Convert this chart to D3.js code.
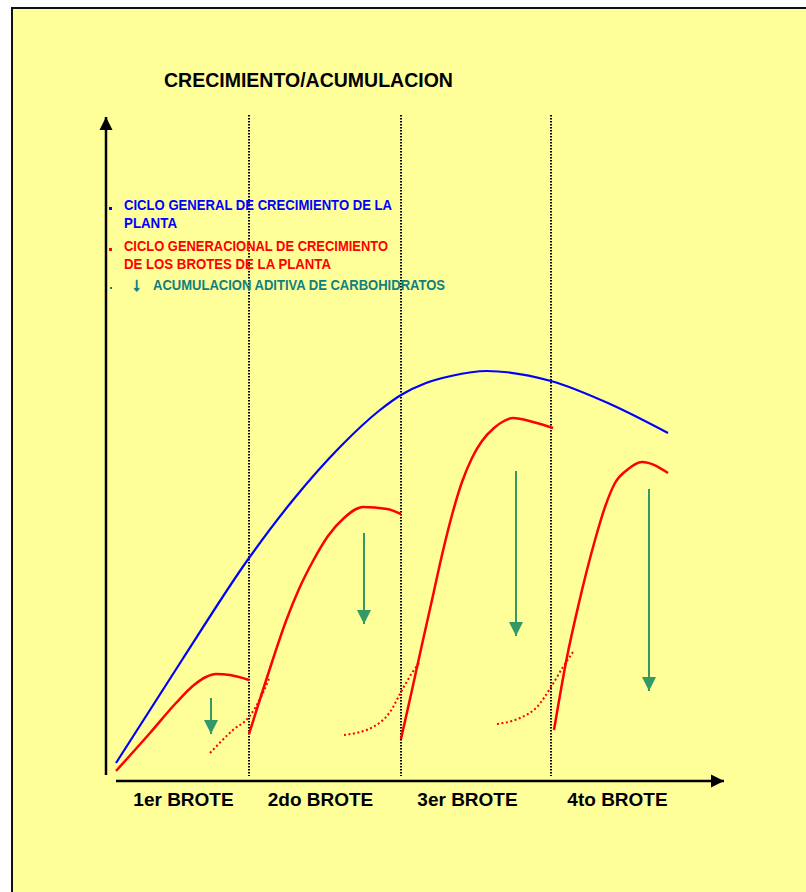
<!DOCTYPE html>
<html>
<head>
<meta charset="utf-8">
<script src="https://cdn.jsdelivr.net/npm/d3@7"></script>
<style>
  body { margin: 0; background: #fff; }
  text { font-family: "Liberation Sans", Arial, sans-serif; font-weight: bold; }
</style>
</head>
<body>
<script>
// arbitrary units (x: time, y: growth)
var blue = [[10,18],[76,121],[143,223],[187,281],[234,334],[274,371],[295,386],[320,398],[345,405],[381,410],[445,400],[504,377],[562,348]];

var red1 = [[10,10],[44,48],[70,78],[88,96],[100,104],[110,107],[124,106],[143,101]];
var red2 = [[143,47],[155,85],[167,122],[180,160],[193,192],[207,220],[222,245],[238,263],[257,274],[281,272],[295,267]];
var red3 = [[295,42],[306,91],[317,141],[326,181],[336,226],[346,266],[356,299],[366,323],[376,340],[388,353],[398,360],[407,363],[427,359],[447,353]];
var red4 = [[448,51],[461,124],[472,174],[489,241],[499,274],[509,298],[521,311],[536,319],[562,308]];

var dot1 = [[104,28],[127,51],[143,64],[156,86],[163,102]];
var dot2 = [[238,46],[267,54],[284,69],[295,89],[306,108],[314,119]];
var dot3 = [[391,57],[414,63],[431,74],[445,94],[457,114],[467,129]];

// carbohydrate arrows: x, from, to
var arrows = [[105,83,47],[258,248,157],[410,310,145],[543,292,90]];

var dividers = [143, 295, 445];

var brotes = ["1er BROTE", "2do BROTE", "3er BROTE", "4to BROTE"];
var broteTicks = [77, 214, 361, 511];

var legend = [
  {lines: ["CICLO GENERAL DE CRECIMIENTO DE LA", "PLANTA"], color: "#0000ff"},
  {lines: ["CICLO GENERACIONAL DE CRECIMIENTO", "DE LOS BROTES DE LA PLANTA"], color: "#ff0000"},
  {lines: ["\u2193 ACUMULACION ADITIVA DE CARBOHIDRATOS"], color: "#108080"}
];

var W = 806, H = 892;

var x = d3.scaleLinear().domain([0, 618]).range([106, 724]);
var y = d3.scaleLinear().domain([0, 664]).range([781, 117]);

var svg = d3.select("body").append("svg")
    .attr("width", W)
    .attr("height", H);

svg.append("rect")
    .attr("x", 12).attr("y", 8)
    .attr("width", 820).attr("height", 900)
    .attr("fill", "#ffff99")
    .attr("stroke", "#111")
    .attr("stroke-width", 2);

var defs = svg.append("defs");
defs.append("marker")
    .attr("id", "ah")
    .attr("viewBox", "0 0 10 10")
    .attr("refX", 10).attr("refY", 5)
    .attr("markerWidth", 5.2).attr("markerHeight", 5.4)
    .attr("markerUnits", "strokeWidth")
    .attr("orient", "auto")
  .append("path")
    .attr("d", "M0,0L10,5L0,10Z")
    .attr("fill", "#000");

defs.append("marker")
    .attr("id", "gh")
    .attr("viewBox", "0 0 10 10")
    .attr("refX", 10).attr("refY", 5)
    .attr("markerWidth", 7).attr("markerHeight", 7)
    .attr("markerUnits", "strokeWidth")
    .attr("orient", "auto")
  .append("path")
    .attr("d", "M0,0L10,5L0,10Z")
    .attr("fill", "#339966");

// title
svg.append("text")
    .attr("x", 164).attr("y", 87)
    .style("font-size", "19.5px")
    .attr("fill", "#000")
    .text("CRECIMIENTO/ACUMULACION");

// axes
svg.append("line")
    .attr("x1", x(0)).attr("x2", x(0))
    .attr("y1", y(6)).attr("y2", y(664))
    .attr("stroke", "#000").attr("stroke-width", 2.5)
    .attr("marker-end", "url(#ah)");

svg.append("line")
    .attr("x1", x(10)).attr("x2", x(618))
    .attr("y1", y(0)).attr("y2", y(0))
    .attr("stroke", "#000").attr("stroke-width", 2.5)
    .attr("marker-end", "url(#ah)");

var xAxis = svg.append("g")
    .attr("transform", "translate(0," + y(0) + ")")
    .call(d3.axisBottom(x).tickValues(broteTicks)
      .tickFormat(function(d, i) { return brotes[i]; })
      .tickSize(0).tickPadding(12));
xAxis.select(".domain").remove();
xAxis.selectAll("text")
    .style("font-size", "19px")
    .style("font-family", "'Liberation Sans', Arial, sans-serif")
    .style("font-weight", "bold")
    .attr("fill", "#000");

// dotted dividers
svg.selectAll("line.div").data(dividers).enter()
  .append("line")
    .attr("class", "div")
    .attr("x1", function(d) { return x(d); })
    .attr("x2", function(d) { return x(d); })
    .attr("y1", y(666)).attr("y2", y(5))
    .attr("stroke", "#000")
    .attr("stroke-width", 2)
    .attr("stroke-dasharray", "1.5,1.5");

// legend
var leg = svg.append("g");
var lineY = [210, 251, 290];
var widths = [[268, 53], [264, 207], [292]];
legend.forEach(function(l, i) {
  leg.append("rect")
      .attr("x", i == 2 ? 110 : 109).attr("y", lineY[i] - 3)
      .attr("width", i == 2 ? 2 : 3).attr("height", i == 2 ? 2 : 3)
      .attr("fill", l.color);
  l.lines.forEach(function(t, j) {
    var tx = 124;
    if (t.charAt(0) == "\u2193") {
      leg.append("text")
          .attr("x", 132).attr("y", lineY[i] + 1)
          .attr("fill", l.color)
          .attr("stroke", l.color)
          .attr("stroke-width", 0.8)
          .style("font-size", "19px")
          .text(t.charAt(0));
      t = t.slice(2);
      tx = 153;
    }
    leg.append("text")
        .attr("x", tx)
        .attr("y", lineY[i] + j * 18)
        .attr("fill", l.color)
        .style("font-size", "15.5px")
        .attr("textLength", widths[i][j])
        .attr("lengthAdjust", "spacingAndGlyphs")
        .text(t);
  });
});

var smooth = d3.line()
    .x(function(d) { return x(d[0]); })
    .y(function(d) { return y(d[1]); })
    .curve(d3.curveMonotoneX);

// blue overall cycle
svg.append("path")
    .attr("d", smooth(blue))
    .attr("fill", "none")
    .attr("stroke", "#0000ff")
    .attr("stroke-width", 2.2);

// red flush cycles
svg.selectAll("path.red").data([red1, red2, red3, red4]).enter()
  .append("path")
    .attr("class", "red")
    .attr("d", smooth)
    .attr("fill", "none")
    .attr("stroke", "#ff0000")
    .attr("stroke-width", 2.5);

svg.selectAll("path.dotred").data([dot1, dot2, dot3]).enter()
  .append("path")
    .attr("class", "dotred")
    .attr("d", smooth)
    .attr("fill", "none")
    .attr("stroke", "#ff0000")
    .attr("stroke-width", 2)
    .attr("stroke-dasharray", "2,2.5");

// green arrows
svg.selectAll("line.acc").data(arrows).enter()
  .append("line")
    .attr("class", "acc")
    .attr("x1", function(d) { return x(d[0]); })
    .attr("x2", function(d) { return x(d[0]); })
    .attr("y1", function(d) { return y(d[1]); })
    .attr("y2", function(d) { return y(d[2]); })
    .attr("stroke", "#339966")
    .attr("stroke-width", 2)
    .attr("marker-end", "url(#gh)");
</script>
</body>
</html>
